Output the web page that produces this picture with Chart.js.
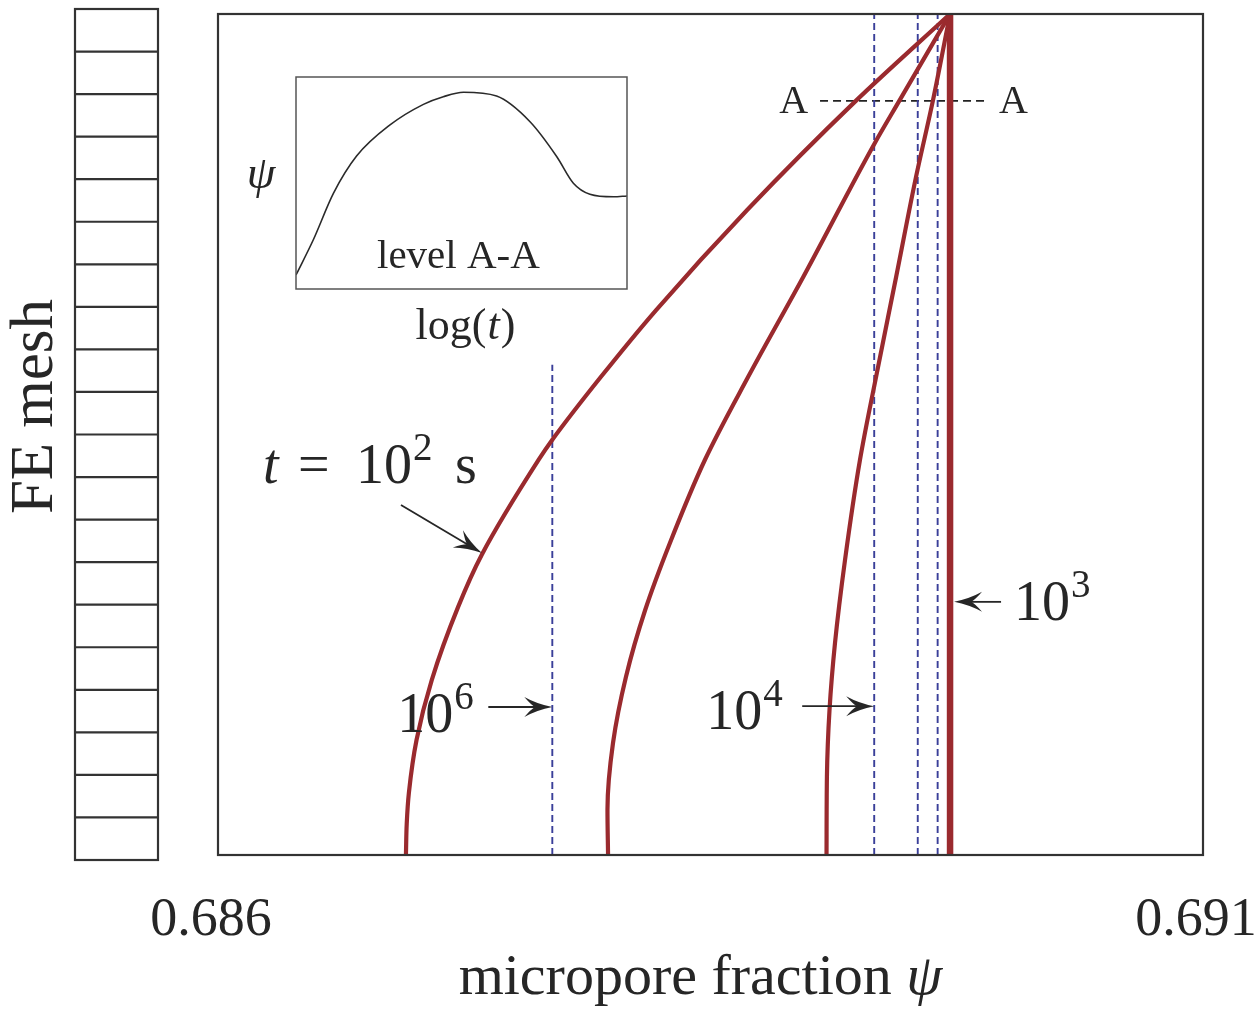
<!DOCTYPE html>
<html>
<head>
<meta charset="utf-8">
<title>Micropore fraction profiles</title>
<script src="https://cdn.jsdelivr.net/npm/chart.js@4/dist/chart.umd.min.js"></script>
<style>
  html, body { margin: 0; padding: 0; background: #ffffff; }
  #wrap { position: relative; width: 1260px; height: 1021px; overflow: hidden; }
  #main { position: absolute; left: 0; top: 0; }
  #inset { position: absolute; }
</style>
</head>
<body>
<div id="wrap">
  <canvas id="main" width="1260" height="1021"></canvas>
  <canvas id="inset"></canvas>
</div>
<script>
// ---- axis range and tick labels ----
const psiMin = 0.686;
const psiMax = 0.691;
const xTickValues = [0.686, 0.691];
const xTickLabels = ['0.686', '0.691'];

// ---- profiles: normalised height z (0 = base, 1 = top) vs micropore fraction ----
const zT1e2   = [0, 0.037, 0.074, 0.137, 0.208, 0.295, 0.357, 0.470, 0.494, 0.568, 0.648, 0.767, 0.897, 1];
const psiT1e2 = [0.686954, 0.686958, 0.686969, 0.687008, 0.687085, 0.687219, 0.687339, 0.687628, 0.687698, 0.687942, 0.688224, 0.688686, 0.689239, 0.689716];

const zB   = [0, 0.054, 0.133, 0.212, 0.291, 0.371, 0.470, 0.568, 0.687, 0.847, 0.897, 1];
const psiB = [0.687980, 0.687977, 0.688005, 0.688071, 0.688168, 0.688294, 0.688472, 0.688690, 0.688970, 0.689335, 0.689459, 0.689716];

const zC   = [0, 0.093, 0.172, 0.252, 0.351, 0.470, 0.568, 0.687, 0.806, 0.897, 1];
const psiC = [0.689089, 0.689091, 0.689104, 0.689132, 0.689183, 0.689259, 0.689340, 0.689442, 0.689543, 0.689629, 0.689716];

// uniform profile at t = 10^3 s
const psiT1e3 = 0.689716;

// dashed uniform profiles (first one: 10^6 s, second: 10^4 s)
const psiDashed = [0.687697, 0.689331, 0.689552, 0.689653];
const zDashedTop = [0.583, 1, 1, 1];

// level A-A
const zLevelA = 0.8966;
const psiLevelA = [0.689056, 0.689893];

// FE mesh elements over the column height
const meshElements = 20;

// ---- inset: psi at level A-A against log(t), both normalised ----
const insetLogT = [0, 0.052, 0.113, 0.183, 0.284, 0.385, 0.445, 0.506, 0.606, 0.707, 0.788, 0.838, 0.888, 0.959, 1];
const insetPsi  = [0.066, 0.231, 0.451, 0.627, 0.774, 0.871, 0.907, 0.928, 0.910, 0.789, 0.624, 0.499, 0.447, 0.435, 0.439];

// ---- style ----
const RED = '#9a2a2e';
const BLUE = '#3a3f99';
const INK = '#262626';
const FRAME = '#333333';
const SERIF = '"Liberation Serif", "DejaVu Serif", serif';

const toPts = (xs, ys) => xs.map((x, i) => ({ x: x, y: ys[i] }));

const curve = (xs, ys) => ({ data: toPts(xs, ys), borderColor: RED, borderWidth: 4.2, cubicInterpolationMode: 'monotone' });

const datasets = [curve(psiT1e2, zT1e2), curve(psiB, zB), curve(psiC, zC)];
psiDashed.forEach((p, i) => {
  datasets.push({ data: [{ x: p, y: 0 }, { x: p, y: zDashedTop[i] }], borderColor: BLUE, borderWidth: 1.9, borderDash: [7, 4], tension: 0 });
});
datasets.push({ data: [{ x: psiT1e3, y: 0 }, { x: psiT1e3, y: 1 }], borderColor: RED, borderWidth: 6.5, tension: 0 });
datasets.push({ data: [{ x: psiLevelA[0], y: zLevelA }, { x: psiLevelA[1], y: zLevelA }], borderColor: '#222222', borderWidth: 1.7, borderDash: [8, 5], tension: 0 });

// inset box (page pixels)
const INSET = { left: 296, top: 77, right: 627, bottom: 289 };

function arrow(ctx, x0, y0, x1, y1) {
  const ang = Math.atan2(y1 - y0, x1 - x0);
  const L = 28, W = 10;
  ctx.save();
  ctx.strokeStyle = INK;
  ctx.fillStyle = INK;
  ctx.lineWidth = 1.8;
  ctx.beginPath();
  ctx.moveTo(x0, y0);
  ctx.lineTo(x1 - Math.cos(ang) * L * 0.6, y1 - Math.sin(ang) * L * 0.6);
  ctx.stroke();
  ctx.translate(x1, y1);
  ctx.rotate(ang);
  ctx.beginPath();
  ctx.moveTo(0, 0);
  ctx.quadraticCurveTo(-L * 0.55, -W * 0.3, -L, -W);
  ctx.quadraticCurveTo(-L * 0.75, -W * 0.2, -L * 0.62, 0);
  ctx.quadraticCurveTo(-L * 0.75, W * 0.2, -L, W);
  ctx.quadraticCurveTo(-L * 0.55, W * 0.3, 0, 0);
  ctx.fill();
  ctx.restore();
}

function text(ctx, s, x, y, size, italic, align) {
  ctx.font = (italic ? 'italic ' : '') + size + 'px ' + SERIF;
  ctx.textAlign = align || 'left';
  ctx.textBaseline = 'alphabetic';
  ctx.fillText(s, x, y);
  return ctx.measureText(s).width;
}

// "base^exp" starting at x (baseline y)
function power(ctx, base, exp, x, y) {
  const w = text(ctx, base, x, y, 56, false);
  const w2 = text(ctx, exp, x + w + 1, y - 23, 39, false);
  return w + w2 + 1;
}

const decorations = {
  id: 'decorations',
  afterDraw(chart) {
    const ctx = chart.ctx;
    const a = chart.chartArea;
    const xs = chart.scales.x, ys = chart.scales.y;
    ctx.save();
    ctx.fillStyle = INK;

    // plot frame
    ctx.strokeStyle = FRAME;
    ctx.lineWidth = 2.2;
    ctx.strokeRect(a.left, a.top, a.right - a.left, a.bottom - a.top);

    // FE mesh column
    const mTop = ys.getPixelForValue(1) - 5, mBot = ys.getPixelForValue(0) + 5;
    const mL = a.left - 143, mR = a.left - 60;
    ctx.lineWidth = 2.2;
    ctx.strokeRect(mL, mTop, mR - mL, mBot - mTop);
    ctx.beginPath();
    for (let i = 1; i < meshElements; i++) {
      const y = mTop + (mBot - mTop) * i / meshElements;
      ctx.moveTo(mL, y); ctx.lineTo(mR, y);
    }
    ctx.stroke();

    // "FE mesh"
    ctx.save();
    ctx.translate(52, (mTop + mBot) / 2 - 28);
    ctx.rotate(-Math.PI / 2);
    text(ctx, 'FE mesh', 0, 0, 61, false, 'center');
    ctx.restore();

    // x-axis title
    {
      const s1 = 'micropore fraction ';
      ctx.font = '58px ' + SERIF;
      const w1 = ctx.measureText(s1).width;
      ctx.font = 'italic 58px ' + SERIF;
      const w2 = ctx.measureText('\u03C8').width;
      const x0 = (a.left + a.right) / 2 - 10 - (w1 + w2) / 2;
      text(ctx, s1, x0, 994, 58, false);
      text(ctx, '\u03C8', x0 + w1, 994, 58, true);
    }

    // level A-A labels
    const yA = ys.getPixelForValue(zLevelA);
    text(ctx, 'A', xs.getPixelForValue(psiLevelA[0]) - 12, yA + 12, 40, false, 'right');
    text(ctx, 'A', xs.getPixelForValue(psiLevelA[1]) + 14, yA + 12, 40, false, 'left');

    // t = 10^2 s
    {
      const tipX = xs.getPixelForValue(0.687340), tipY = ys.getPixelForValue(0.359);
      const tx = tipX - 81, ty = tipY - 48;
      arrow(ctx, tx, ty, tipX, tipY);
      const by = ty - 22;
      text(ctx, 't', tx - 138, by, 56, true);
      text(ctx, '=', tx - 103, by, 56, false);
      power(ctx, '10', '2', tx - 45, by);
      text(ctx, 's', tx + 54, by, 56, false);
    }

    // 10^6 -> dashed line
    {
      const tipX = xs.getPixelForValue(psiDashed[0]), tipY = ys.getPixelForValue(0.176);
      const tx = tipX - 64;
      arrow(ctx, tx, tipY, tipX, tipY);
      power(ctx, '10', '6', tx - 91, tipY + 25);
    }

    // 10^4 -> dashed line
    {
      const tipX = xs.getPixelForValue(psiDashed[1]), tipY = ys.getPixelForValue(0.177);
      const tx = tipX - 72;
      arrow(ctx, tx, tipY, tipX, tipY);
      power(ctx, '10', '4', tx - 96, tipY + 23);
    }

    // 10^3 <- thick uniform line
    {
      const tipX = xs.getPixelForValue(psiT1e3) + 4, tipY = ys.getPixelForValue(0.301);
      const tx = tipX + 47;
      arrow(ctx, tx, tipY, tipX, tipY);
      power(ctx, '10', '3', tx + 13, tipY + 18);
    }

    // inset labels
    text(ctx, '\u03C8', INSET.left - 35, INSET.top + 111, 46, true, 'center');
    text(ctx, 'level A-A', INSET.left + 81, INSET.bottom - 21, 41, false, 'left');
    {
      ctx.font = '44px ' + SERIF;
      const w1 = ctx.measureText('log(').width;
      ctx.font = 'italic 44px ' + SERIF;
      const w2 = ctx.measureText('t').width;
      ctx.font = '44px ' + SERIF;
      const w3 = ctx.measureText(')').width;
      const x0 = (INSET.left + INSET.right) / 2 + 3 - (w1 + w2 + w3) / 2;
      const by = INSET.bottom + 50;
      text(ctx, 'log(', x0, by, 44, false);
      text(ctx, 't', x0 + w1 + 1, by, 44, true);
      text(ctx, ')', x0 + w1 + w2 + 2, by, 44, false);
    }
    ctx.restore();
  }
};

new Chart(document.getElementById('main'), {
  type: 'line',
  data: { datasets: datasets },
  options: {
    indexAxis: 'y',
    responsive: false,
    animation: false,
    devicePixelRatio: 1,
    parsing: false,
    layout: { padding: { left: 218, right: 57, top: 14, bottom: 0 } },
    elements: { point: { radius: 0, hoverRadius: 0 }, line: { fill: false, borderCapStyle: 'butt' } },
    plugins: { legend: { display: false }, tooltip: { enabled: false }, title: { display: false } },
    events: [],
    scales: {
      x: {
        type: 'linear',
        position: 'bottom',
        min: psiMin,
        max: psiMax,
        grid: { display: false, drawTicks: false },
        border: { display: false },
        afterBuildTicks: (s) => { s.ticks = xTickValues.map(v => ({ value: v })); },
        afterFit: (s) => { s.height = 166; s.paddingLeft = 0; s.paddingRight = 0; },
        ticks: {
          autoSkip: false,
          maxRotation: 0,
          padding: 33,
          labelOffset: -7,
          color: INK,
          font: { family: SERIF, size: 54 },
          callback: (v, i) => xTickLabels[i]
        }
      },
      y: { type: 'linear', position: 'left', min: 0, max: 1, display: false }
    }
  },
  plugins: [decorations]
});

// ---- inset chart ----
const insetPad = 6;
const insetCanvas = document.getElementById('inset');
insetCanvas.width = INSET.right - INSET.left + 2 * insetPad;
insetCanvas.height = INSET.bottom - INSET.top + 2 * insetPad;
insetCanvas.style.left = (INSET.left - insetPad) + 'px';
insetCanvas.style.top = (INSET.top - insetPad) + 'px';

new Chart(insetCanvas, {
  type: 'line',
  data: { datasets: [{ data: toPts(insetLogT, insetPsi), borderColor: '#2a2a2a', borderWidth: 1.6, cubicInterpolationMode: 'monotone' }] },
  options: {
    responsive: false,
    animation: false,
    devicePixelRatio: 1,
    parsing: false,
    layout: { padding: insetPad },
    elements: { point: { radius: 0, hoverRadius: 0 } },
    plugins: { legend: { display: false }, tooltip: { enabled: false } },
    events: [],
    scales: {
      x: { type: 'linear', min: 0, max: 1, display: false },
      y: { type: 'linear', min: 0, max: 1, display: false }
    }
  },
  plugins: [{
    id: 'insetFrame',
    afterDraw(chart) {
      const a = chart.chartArea, ctx = chart.ctx;
      ctx.save();
      ctx.strokeStyle = '#555555';
      ctx.lineWidth = 1.5;
      ctx.strokeRect(a.left, a.top, a.right - a.left, a.bottom - a.top);
      ctx.restore();
    }
  }]
});
</script>
</body>
</html>
